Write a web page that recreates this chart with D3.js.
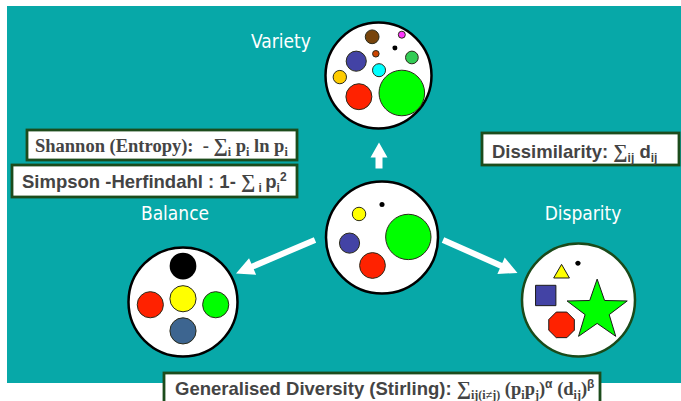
<!DOCTYPE html>
<html>
<head>
<meta charset="utf-8" />
<title>Diversity: variety, balance, disparity</title>
<script src="https://d3js.org/d3.v7.min.js"></script>
<style>
  body { margin: 0; background: #fff; }
  svg { display: block; }
</style>
</head>
<body>
<svg id="viz"></svg>
<script>
// ---- data -------------------------------------------------------------
// each disk: [dx, dy, size, kind]  (panel units: panel radius = 1)
var varietyDisks = [
  [-0.12, -0.73, 0.13, "brown"],
  [ 0.44, -0.77, 0.066, "magenta"],
  [ 0.31, -0.52, 0.047, "black"],
  [-0.05, -0.41, 0.062, "orange"],
  [-0.42, -0.27, 0.19, "blue"],
  [ 0.63, -0.34, 0.12, "leaf"],
  [ 0.01, -0.10, 0.123, "cyan"],
  [-0.73,  0.03, 0.126, "gold"],
  [-0.37,  0.40, 0.245, "red"],
  [ 0.44,  0.33, 0.43, "green"]
];
var centreDisks = [
  [ 0.00, -0.59, 0.045, "black"],
  [-0.41, -0.42, 0.12, "yellow"],
  [ 0.47, -0.01, 0.405, "green"],
  [-0.58,  0.10, 0.18, "blue"],
  [-0.17,  0.50, 0.23, "red"]
];
var balanceDisks = [
  [ 0.00, -0.66, 0.245, "black"],
  [-0.60,  0.05, 0.24, "red"],
  [ 0.00, -0.06, 0.24, "yellow"],
  [ 0.60,  0.05, 0.24, "green"],
  [ 0.00,  0.53, 0.24, "slate"]
];
// disparity: [dx, dy, size, shape, kind]
var disparityShapes = [
  [-0.01, -0.65, 0.045, "dot", "black"],
  [-0.30, -0.47, 0.14, "triangle", "yellow"],
  [-0.58, -0.08, 0.18, "square", "blue"],
  [-0.30,  0.44, 0.245, "octagon", "red"],
  [ 0.33,  0.19, 0.56, "star", "green"]
];
var panelNames = ["Variety", "Balance", "Disparity"];

var palette = {
  black: "#000000", brown: "#77440c", magenta: "#ff33ff", orange: "#cc4400",
  blue: "#4343a5", leaf: "#33cc55", cyan: "#00ffff", gold: "#ffcc00",
  red: "#ff2200", green: "#00ff00", yellow: "#ffff00", slate: "#3d6590"
};

// ---- layout -----------------------------------------------------------
var W = 681, H = 401;
var teal = "#07a8a8", boxLine = "#1c4c1c", ink = "#444444";
var SANS = "'Liberation Sans', Arial, sans-serif";
var SERIF = "'Liberation Serif', 'Times New Roman', serif";
var LABEL = "'DejaVu Sans Condensed', 'DejaVu Sans', sans-serif";

var panels = {
  variety:   { cx: 378.5, cy: 75.5, r: 53,  line: "#000" },
  centre:    { cx: 382,   cy: 237.5, r: 56, line: "#000" },
  balance:   { cx: 183,   cy: 302, r: 54.5, line: "#000" },
  disparity: { cx: 578.5, cy: 300, r: 56.5, line: "#1a4a1a" }
};

var svg = d3.select("#viz").attr("width", W).attr("height", H);

svg.append("rect")
  .attr("x", 7).attr("y", 6).attr("width", W - 7).attr("height", 377)
  .attr("fill", teal);

function panelScales(p) {
  return {
    x: d3.scaleLinear().domain([-1, 1]).range([p.cx - p.r, p.cx + p.r]),
    y: d3.scaleLinear().domain([-1, 1]).range([p.cy - p.r, p.cy + p.r]),
    r: d3.scaleLinear().domain([0, 1]).range([0, p.r])
  };
}

function drawPanel(p, disks) {
  var s = panelScales(p);
  var g = svg.append("g");
  g.append("circle")
    .attr("cx", p.cx).attr("cy", p.cy).attr("r", p.r)
    .attr("fill", "#fff").attr("stroke", p.line).attr("stroke-width", 2.5);
  g.selectAll("circle.disk")
    .data(disks)
    .enter().append("circle")
    .attr("class", "disk")
    .attr("cx", function(d) { return s.x(d[0]); })
    .attr("cy", function(d) { return s.y(d[1]); })
    .attr("r", function(d) { return s.r(d[2]); })
    .attr("fill", function(d) { return palette[d[3]]; })
    .attr("stroke", function(d) { return d[3] == "black" ? "none" : "#2a2a1a"; })
    .attr("stroke-width", 1);
  return g;
}

drawPanel(panels.variety, varietyDisks);
drawPanel(panels.centre, centreDisks);
drawPanel(panels.balance, balanceDisks);

// disparity panel with different shapes
(function() {
  var p = panels.disparity, s = panelScales(p);
  var g = svg.append("g");
  g.append("circle")
    .attr("cx", p.cx).attr("cy", p.cy).attr("r", p.r)
    .attr("fill", "#fff").attr("stroke", p.line).attr("stroke-width", 2.5);

  var radial = d3.lineRadial().curve(d3.curveLinearClosed);
  function polygon(n, rad, offset, inner) {
    var pts = [];
    var k = inner ? 2 * n : n;
    for (var i = 0; i < k; i++) {
      var a = offset + i * 2 * Math.PI / k;
      pts.push([a, inner && i % 2 ? rad * inner : rad]);
    }
    return radial(pts);
  }

  g.selectAll("path.shape")
    .data(disparityShapes)
    .enter().append("path")
    .attr("class", "shape")
    .attr("transform", function(d) { return "translate(" + s.x(d[0]) + "," + s.y(d[1]) + ")"; })
    .attr("d", function(d) {
      var rad = s.r(d[2]);
      if (d[3] == "dot") return polygon(16, rad, 0);
      if (d[3] == "triangle") return polygon(3, rad * 1.15, 0);
      if (d[3] == "square") return polygon(4, rad * Math.SQRT2, Math.PI / 4);
      if (d[3] == "octagon") return polygon(8, rad, Math.PI / 8);
      return polygon(5, rad, 0, 0.40);
    })
    .attr("fill", function(d) { return palette[d[4]]; })
    .attr("stroke", function(d) { return d[3] == "dot" ? "none" : "#1a1a1a"; })
    .attr("stroke-width", 1)
    .attr("stroke-linejoin", "miter");
})();

// ---- arrows -----------------------------------------------------------
var arrows = [
  { tail: [379, 168.5], tip: [379, 142.5], w: 7, hl: 15, hw: 17 },
  { tail: [315, 240], tip: [236, 273.5], w: 6, hl: 18, hw: 18 },
  { tail: [443, 240], tip: [517.5, 273], w: 6, hl: 18, hw: 18 }
];
function arrowPath(a) {
  var dx = a.tip[0] - a.tail[0], dy = a.tip[1] - a.tail[1];
  var L = Math.sqrt(dx * dx + dy * dy);
  var ux = dx / L, uy = dy / L, nx = -uy, ny = ux;
  var bx = a.tip[0] - ux * a.hl, by = a.tip[1] - uy * a.hl;
  var pts = [
    [a.tail[0] + nx * a.w / 2, a.tail[1] + ny * a.w / 2],
    [bx + nx * a.w / 2, by + ny * a.w / 2],
    [bx + nx * a.hw / 2, by + ny * a.hw / 2],
    a.tip,
    [bx - nx * a.hw / 2, by - ny * a.hw / 2],
    [bx - nx * a.w / 2, by - ny * a.w / 2],
    [a.tail[0] - nx * a.w / 2, a.tail[1] - ny * a.w / 2]
  ];
  return d3.line().curve(d3.curveLinearClosed)(pts);
}
svg.selectAll("path.arrow")
  .data(arrows)
  .enter().append("path")
  .attr("class", "arrow")
  .attr("d", arrowPath)
  .attr("fill", "#fff");

// ---- panel labels -----------------------------------------------------
var labelPos = [[281, 48], [175, 220], [583, 220]];
svg.selectAll("text.label")
  .data(panelNames)
  .enter().append("text")
  .attr("class", "label")
  .attr("x", function(d, i) { return labelPos[i][0]; })
  .attr("y", function(d, i) { return labelPos[i][1]; })
  .attr("text-anchor", "middle")
  .attr("font-family", LABEL)
  .attr("font-stretch", "condensed")
  .attr("font-size", 19)
  .attr("fill", "#fff")
  .text(function(d) { return d; });

// ---- formula boxes ----------------------------------------------------
// pieces: [text, font, role]  role: n = normal, b = sub, p = sup, g = big sigma
var shannonParts = [
  ["Shannon (Entropy):  - ", "serif", "n"], ["∑", "serif", "g"], ["i", "serif", "b"],
  [" p", "serif", "n"], ["i", "serif", "b"], [" ln p", "serif", "n"], ["i", "serif", "b"]
];
var simpsonParts = [
  ["Simpson -Herfindahl : 1- ", "sans", "n"], ["∑", "serif", "g"], [" i ", "sans", "b"],
  ["p", "sans", "n"], ["i", "sans", "b"], ["2", "sans", "p"]
];
var dissimParts = [
  ["Dissimilarity: ", "sans", "n"], ["∑", "serif", "g"], ["ij", "sans", "b"],
  [" d", "sans", "n"], ["ij", "sans", "b"]
];
var stirlingParts = [
  ["Generalised Diversity (Stirling): ", "sans", "n"], ["∑", "serif", "g"],
  ["ij(i≠j)", "serif", "b"], [" (p", "serif", "n"], ["i", "serif", "b"], ["p", "serif", "n"],
  ["j", "serif", "b"], [")", "serif", "n"], ["α", "sans", "p"], [" (d", "serif", "n"],
  ["ij", "serif", "b"], [")", "serif", "n"], ["β", "sans", "p"]
];

var boxes = [
  { x: 27, y: 130, w: 270, h: 30, tx: 35, ty: 152, parts: shannonParts },
  { x: 12, y: 165, w: 285, h: 32, tx: 22, ty: 188, parts: simpsonParts },
  { x: 482, y: 133, w: 197, h: 32, tx: 492, ty: 158, parts: dissimParts },
  { x: 164, y: 373, w: 436, h: 40, tx: 175, ty: 395, parts: stirlingParts }
];

boxes.forEach(function(b) {
  svg.append("rect")
    .attr("x", b.x).attr("y", b.y).attr("width", b.w).attr("height", b.h)
    .attr("fill", "#fff").attr("stroke", boxLine).attr("stroke-width", 2.8);
  var t = svg.append("text")
    .attr("x", b.tx).attr("y", b.ty)
    .attr("fill", ink).attr("font-weight", "bold").attr("font-size", 18.5);
  var shift = 0;
  b.parts.forEach(function(p) {
    var target = p[2] == "b" ? 4 : p[2] == "p" ? -7 : 0;
    t.append("tspan")
      .attr("font-family", p[1] == "serif" ? SERIF : SANS)
      .attr("font-size", p[2] == "b" || p[2] == "p" ? 12 : p[2] == "g" ? 20 : 18.5)
      .attr("dy", target - shift)
      .attr("xml:space", "preserve")
      .text(p[0]);
    shift = target;
  });
});
</script>
</body>
</html>
